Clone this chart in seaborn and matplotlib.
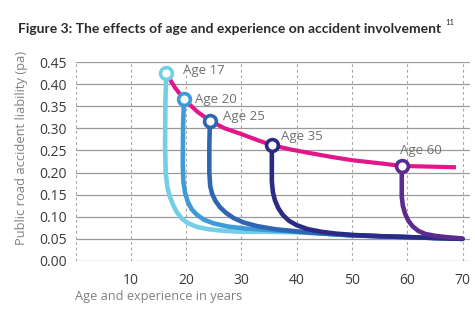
import matplotlib
matplotlib.use("Agg")
import matplotlib.pyplot as plt
import seaborn as sns
import pandas as pd

# ---- data ----
pink_x = [16.4, 18.0, 19.6, 22.0, 24.3, 27.0, 30.0, 33.0, 35.5, 39.0, 42.0, 46.0, 50.0, 55.0, 59.0, 64.0, 68.8]
pink_y = [0.4245, 0.392, 0.366, 0.338, 0.317, 0.300, 0.287, 0.273, 0.262, 0.252, 0.245, 0.236, 0.228, 0.221, 0.215, 0.2135, 0.212]

ages = ["Age 17", "Age 20", "Age 25", "Age 35", "Age 60"]
age_x = [16.4, 19.6, 24.3, 35.5, 59.0]
age_y = [0.4245, 0.366, 0.317, 0.262, 0.215]

c17_x = [16.4, 16.25, 16.2, 16.3, 16.6, 17.0, 17.6, 18.3, 19.2, 20.4, 22.0, 24.0, 27.0, 30.0, 35.0, 40.0, 50.0, 60.0, 70.0]
c17_y = [0.4245, 0.36, 0.26, 0.20, 0.168, 0.148, 0.128, 0.111, 0.096, 0.085, 0.077, 0.072, 0.068, 0.066, 0.066, 0.065, 0.058, 0.054, 0.050]

c20_x = [19.6, 19.45, 19.4, 19.5, 19.8, 20.3, 21.0, 22.0, 23.3, 25.0, 27.5, 31.0, 35.0, 40.0, 50.0, 60.0, 70.0]
c20_y = [0.366, 0.30, 0.22, 0.18, 0.155, 0.134, 0.117, 0.104, 0.093, 0.085, 0.078, 0.073, 0.070, 0.066, 0.058, 0.054, 0.050]

c25_x = [24.3, 24.2, 24.2, 24.35, 24.7, 25.3, 26.1, 27.2, 28.6, 30.4, 32.8, 36.0, 40.0, 45.0, 50.0, 60.0, 70.0]
c25_y = [0.317, 0.26, 0.20, 0.17, 0.152, 0.136, 0.122, 0.109, 0.097, 0.087, 0.079, 0.072, 0.067, 0.062, 0.058, 0.054, 0.050]

c35_x = [35.5, 35.5, 35.5, 35.7, 36.1, 36.7, 37.5, 38.6, 40.0, 42.0, 44.5, 47.0, 50.0, 55.0, 60.0, 65.0, 70.0]
c35_y = [0.262, 0.22, 0.18, 0.155, 0.136, 0.119, 0.104, 0.091, 0.081, 0.072, 0.066, 0.062, 0.059, 0.056, 0.054, 0.052, 0.050]

c60_x = [59.0, 59.0, 59.0, 59.2, 59.6, 60.2, 61.0, 62.0, 63.3, 65.0, 67.0, 69.8]
c60_y = [0.215, 0.18, 0.145, 0.125, 0.107, 0.091, 0.078, 0.068, 0.061, 0.057, 0.054, 0.051]

x_ticks = [10, 20, 30, 40, 50, 60, 70]
y_ticks = [0.00, 0.05, 0.10, 0.15, 0.20, 0.25, 0.30, 0.35, 0.40, 0.45]

colors = ["#74cfe6", "#3e9bd8", "#2f66b2", "#2b2a85", "#5b2b8f"]
pink = "#e2168a"

sns.set_theme(style="white")
plt.rcParams['font.family'] = ['Open Sans', 'DejaVu Sans']

fig = plt.figure(figsize=(4.75, 3.25), dpi=100)
ax = fig.add_axes([0.159, 0.197, 0.83, 0.612])

curves = [(c17_x, c17_y), (c20_x, c20_y), (c25_x, c25_y), (c35_x, c35_y), (c60_x, c60_y)]
for (cx, cy), col in zip(curves, colors):
    df = pd.DataFrame({"x": cx, "y": cy})
    sns.lineplot(data=df, x="x", y="y", sort=False, estimator=None, color=col,
                 lw=3.3, ax=ax, solid_capstyle="round", solid_joinstyle="round", zorder=3)

dfp = pd.DataFrame({"x": pink_x, "y": pink_y})
sns.lineplot(data=dfp, x="x", y="y", sort=False, estimator=None, color=pink,
             lw=3.0, ax=ax, solid_capstyle="butt", solid_joinstyle="round", zorder=4)

for xv, yv, col in zip(age_x, age_y, colors):
    ax.plot([xv], [yv], marker="o", ms=8.5, mfc="white", mec=col, mew=2.6,
            zorder=6, clip_on=False)

label_pos = [(19.5, 0.43), (21.6, 0.366), (26.7, 0.326), (37.2, 0.281), (58.7, 0.251)]
for lab, (lx, ly) in zip(ages, label_pos):
    ax.text(lx, ly, lab, fontsize=9.5, color="#707070", va="center", ha="left", zorder=7)

ax.set_xlim(0, 71.3)
ax.set_ylim(0, 0.45)
ax.set_xticks(x_ticks)
ax.set_yticks(y_ticks)
ax.set_xticklabels([str(t) for t in x_ticks])
ax.set_yticklabels([f"{t:.2f}" for t in y_ticks])
ax.tick_params(axis="both", length=0, labelsize=10, colors="#3a3a3a")
ax.tick_params(axis="x", pad=9)
ax.tick_params(axis="y", pad=6)

for yv in y_ticks:
    ax.axhline(yv, color="#9a9a9a", lw=0.9, zorder=1)
for xv in [0] + x_ticks:
    ax.axvline(xv, color="#a8a8a8", lw=0.8, ls=(0, (2.5, 2.5)), zorder=1)

for s in ax.spines.values():
    s.set_visible(False)

ax.set_xlabel("")
ax.set_ylabel("")
fig.text(0.158, 0.087, "Age and experience in years", fontsize=9.2, color="#808080",
         ha="left", va="center")
fig.text(0.046, 0.545, "Public road accident liability (pa)", fontsize=9.3, color="#808080",
         rotation=90, ha="center", va="center")

title = fig.text(0.038, 0.912, "Figure 3: The effects of age and experience on accident involvement",
                 fontsize=10.0, fontweight="bold", color="#2a2a2a", ha="left", va="center",
                 family=["Lato", "DejaVu Sans"])
fig.canvas.draw()
bb = title.get_window_extent(renderer=fig.canvas.get_renderer())
x_end = bb.x1 / fig.bbox.width
fig.text(x_end + 0.008, 0.93, "11", fontsize=5.5, color="#2a2a2a", ha="left", va="center",
         family=["Lato", "DejaVu Sans"])

fig.savefig("out.png", dpi=100, facecolor="white")
